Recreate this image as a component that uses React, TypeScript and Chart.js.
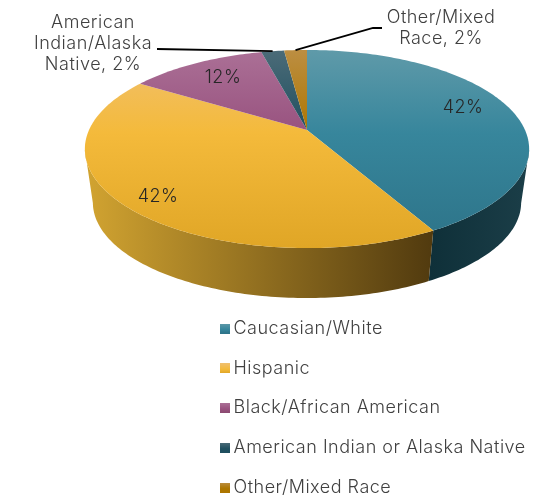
import React, { useEffect, useRef } from "react";
import { Chart, registerables } from "chart.js";

Chart.register(...registerables);

const categories = ["Caucasian/White", "Hispanic", "Black/African American", "American Indian or Alaska Native", "Other/Mixed Race"];
const shares = [42, 42, 12, 2, 2];

const baseColors = ["#37869c", "#f4ba3b", "#98527f", "#1f4f5f", "#ad7600"];
const faceStops = [
  ["#5f9aa9", "#37869c", "#2d7388"],
  ["#f0c070", "#f4ba3b", "#e0a626"],
  ["#ab7096", "#98527f", "#8a4a70"],
  ["#4b6b78", "#1f4f5f", "#1f4f5f"],
  ["#bc8e42", "#ad7600", "#ad7600"],
];
const sideStops = [
  ["#0f3039", "#1b3e48"],
  ["#d2a431", "#523b0f"],
  ["#5a3049", "#5a3049"],
  ["#102c36", "#102c36"],
  ["#6a4800", "#6a4800"],
];

const FONT = "Inter";
const FONT_WEIGHT = 300;
const FONT_SIZE = 18;
const LETTER_SPACING = "0.5px";
const TEXT_COLOR = "#404040";

// perspective disc
const CX = 307, CY = 130, RX = 218, RY = 95.4, K = 0.192;
const BOTTOM_CY = 184.2, BOTTOM_SCALE = 0.964;

const top = (a: number) => {
  const u = Math.cos(a), v = Math.sin(a), w = 1 - K * v;
  return [CX + (RX * u) / w, CY + (RY * v) / w];
};
const bottom = (a: number) => {
  const u = Math.cos(a), v = Math.sin(a), w = 1 - K * v;
  return [CX + (BOTTOM_SCALE * RX * u) / w, BOTTOM_CY + (BOTTOM_SCALE * RY * v) / w];
};

const insideLabels: (null | { x: number; y: number })[] = [
  { x: 463, y: 108 },
  { x: 158, y: 197 },
  { x: 223, y: 78 },
  null,
  null,
];
const outsideLabels = [
  null,
  null,
  null,
  { lines: ["American", "Indian/Alaska", "Native, 2%"], x: 93, ys: [23, 44, 65], via: [[157, 49]] },
  { lines: ["Other/Mixed", "Race, 2%"], x: 441, ys: [18, 39], via: [[373, 28], [382, 28]] },
];

const disc3d = {
  id: "disc3d",
  afterLayout(chart: any) {
    const lg = chart.legend;
    const pad = lg.options.labels.padding;
    lg.left = 224.5 - pad;
    lg.right = 533;
    lg.top = 319.5 - pad;
    lg.bottom = 496 + 40;
  },
  beforeDraw(chart: any) {
    chart.ctx.letterSpacing = LETTER_SPACING;
  },
  beforeDatasetDraw(chart: any, args: any) {
    const ctx = chart.ctx;
    const arcs = args.meta.data;
    const steps = (a0: number, a1: number) => {
      const n = Math.max(2, Math.ceil((a1 - a0) / (Math.PI / 180)));
      const out: number[] = [];
      for (let i = 0; i <= n; i++) out.push(a0 + ((a1 - a0) * i) / n);
      return out;
    };
    ctx.save();
    // side walls, from the left tangent of the disc to the right tangent
    arcs.forEach((arc: any, i: number) => {
      const as = steps(arc.startAngle, arc.endAngle).filter((a) => Math.sin(a) >= K);
      if (as.length < 2) return;
      const g = ctx.createLinearGradient(85, 0, i === 0 ? 529 : 430, 0);
      if (i === 0) {
        g.addColorStop(0.78, sideStops[0][0]);
        g.addColorStop(1, sideStops[0][1]);
      } else {
        g.addColorStop(0, sideStops[i][0]);
        g.addColorStop(1, sideStops[i][1]);
      }
      ctx.beginPath();
      as.forEach((a, j) => {
        const p = top(a);
        j ? ctx.lineTo(p[0], p[1]) : ctx.moveTo(p[0], p[1]);
      });
      [...as].reverse().forEach((a) => {
        const p = bottom(a);
        ctx.lineTo(p[0], p[1]);
      });
      ctx.closePath();
      ctx.fillStyle = g;
      ctx.fill();
    });
    // top faces
    arcs.forEach((arc: any, i: number) => {
      const g = ctx.createLinearGradient(0, 50, 0, 248);
      g.addColorStop(0, faceStops[i][0]);
      g.addColorStop(0.42, faceStops[i][1]);
      g.addColorStop(1, faceStops[i][2]);
      ctx.beginPath();
      ctx.moveTo(CX, CY);
      steps(arc.startAngle, arc.endAngle).forEach((a) => {
        const p = top(a);
        ctx.lineTo(p[0], p[1]);
      });
      ctx.closePath();
      ctx.fillStyle = g;
      ctx.fill();
    });
    ctx.restore();
    return false;
  },
  afterDatasetsDraw(chart: any) {
    const ctx = chart.ctx;
    const arcs = chart.getDatasetMeta(0).data;
    ctx.save();
    ctx.font = `${FONT_WEIGHT} ${FONT_SIZE}px ${FONT}`;
    ctx.textAlign = "center";
    ctx.textBaseline = "middle";
    arcs.forEach((arc: any, i: number) => {
      const inside = insideLabels[i];
      if (inside) {
        ctx.fillStyle = "#262626";
        ctx.fillText(`${shares[i]}%`, inside.x, inside.y);
      }
      const out = outsideLabels[i];
      if (out) {
        ctx.fillStyle = TEXT_COLOR;
        out.lines.forEach((t, j) => ctx.fillText(t, out.x, out.ys[j]));
        const mid = (arc.startAngle + arc.endAngle) / 2;
        const p = top(mid);
        ctx.beginPath();
        ctx.moveTo(p[0], p[1]);
        out.via.forEach((q) => ctx.lineTo(q[0], q[1]));
        ctx.strokeStyle = "#000000";
        ctx.lineWidth = 1.8;
        ctx.stroke();
      }
    });
    ctx.restore();
  },
};

const swatch = (i: number) => {
  const c = document.createElement("canvas");
  c.width = 10;
  c.height = 10;
  const x = c.getContext("2d")!;
  const g = x.createLinearGradient(0, 0, 0, 10);
  g.addColorStop(0, faceStops[i][0]);
  g.addColorStop(0.6, faceStops[i][1]);
  g.addColorStop(1, faceStops[i][2]);
  x.fillStyle = g;
  x.fillRect(0, 0, 10, 10);
  return c;
};

export default function App() {
  const ref = useRef<HTMLCanvasElement>(null);
  useEffect(() => {
    const chart = new Chart(ref.current!, {
      type: "pie",
      data: {
        labels: categories,
        datasets: [{ data: shares, backgroundColor: baseColors, borderWidth: 0 }],
      },
      options: {
        responsive: false,
        animation: false,
        devicePixelRatio: 1,
        plugins: {
          tooltip: { enabled: false },
          legend: {
            position: "right",
            align: "start",
            labels: {
              font: { family: FONT, size: FONT_SIZE, weight: FONT_WEIGHT },
              color: TEXT_COLOR,
              padding: 21.75,
              usePointStyle: true,
              pointStyleWidth: 0.01,
              generateLabels: () =>
                categories.map((text, i) => ({
                  text,
                  fillStyle: baseColors[i],
                  strokeStyle: baseColors[i],
                  lineWidth: 0,
                  pointStyle: swatch(i),
                  hidden: false,
                  index: i,
                  fontColor: TEXT_COLOR,
                })) as any,
            },
          },
        },
      } as any,
      plugins: [disc3d],
    });
    return () => chart.destroy();
  }, []);
  return (
    <canvas
      ref={ref}
      width={533}
      height={496}
      style={{ position: "absolute", left: 0, top: 0, display: "block", filter: "blur(0.35px)" }}
    />
  );
}
